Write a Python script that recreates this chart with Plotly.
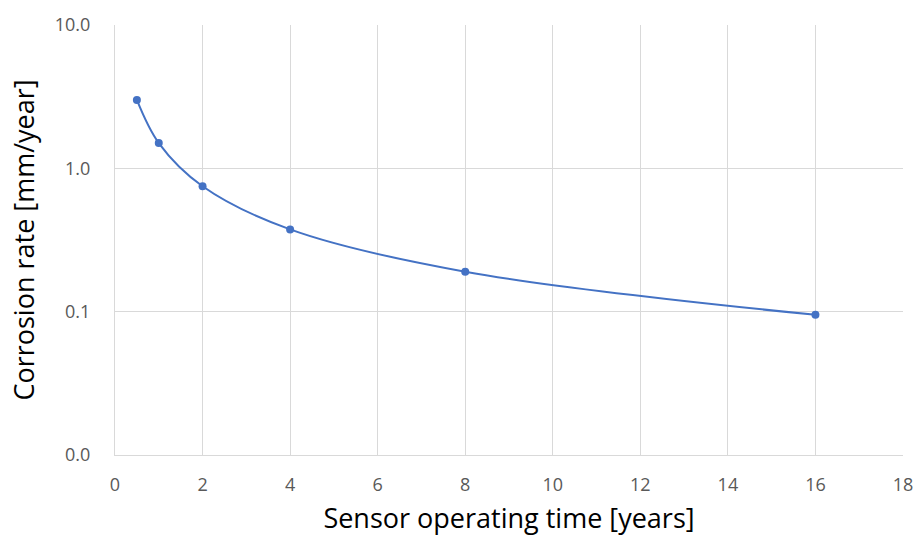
import plotly.graph_objects as go

years = [0.5, 1, 2, 4, 8, 16]
rate = [3.0, 1.5, 0.75, 0.375, 0.19, 0.095]

y_tickvals = [0.01, 0.1, 1, 10]
y_ticktext = ["0.0", "0.1", "1.0", "10.0"]
x_tickvals = list(range(0, 19, 2))

fig = go.Figure(go.Scatter(
    x=years, y=rate, mode="lines+markers",
    line=dict(color="#4472C4", width=2, shape="spline", smoothing=1),
    marker=dict(color="#4472C4", size=8),
))

fig.update_layout(
    width=921, height=540,
    margin=dict(l=115, r=18, t=25, b=85),
    plot_bgcolor="white", paper_bgcolor="white",
    showlegend=False,
    font=dict(family="Open Sans, Liberation Sans, sans-serif", color="#595959"),
)
fig.update_xaxes(
    range=[0, 18], tickvals=x_tickvals, showgrid=True, gridcolor="#D9D9D9", gridwidth=1,
    showline=True, linecolor="#D9D9D9", linewidth=1, mirror=False, zeroline=False,
    ticks="", tickfont=dict(size=18, color="#595959"), automargin=False,
    ticklabelstandoff=13,
    title=dict(text="Sensor operating time [years]", font=dict(size=27, color="black"), standoff=14),
)
fig.update_yaxes(
    type="log", range=[-2, 1], tickvals=y_tickvals, ticktext=y_ticktext,
    showgrid=True, gridcolor="#D9D9D9", gridwidth=1,
    showline=True, linecolor="#D9D9D9", linewidth=1, zeroline=False,
    ticks="", tickfont=dict(size=18, color="#595959"), automargin=False,
    ticklabelstandoff=20,
    title=dict(text="Corrosion rate [mm/year]", font=dict(size=27, color="black"), standoff=12),
)
fig.write_html("out.html", config={"displayModeBar": False},
               post_script="document.body.style.margin='0';")
